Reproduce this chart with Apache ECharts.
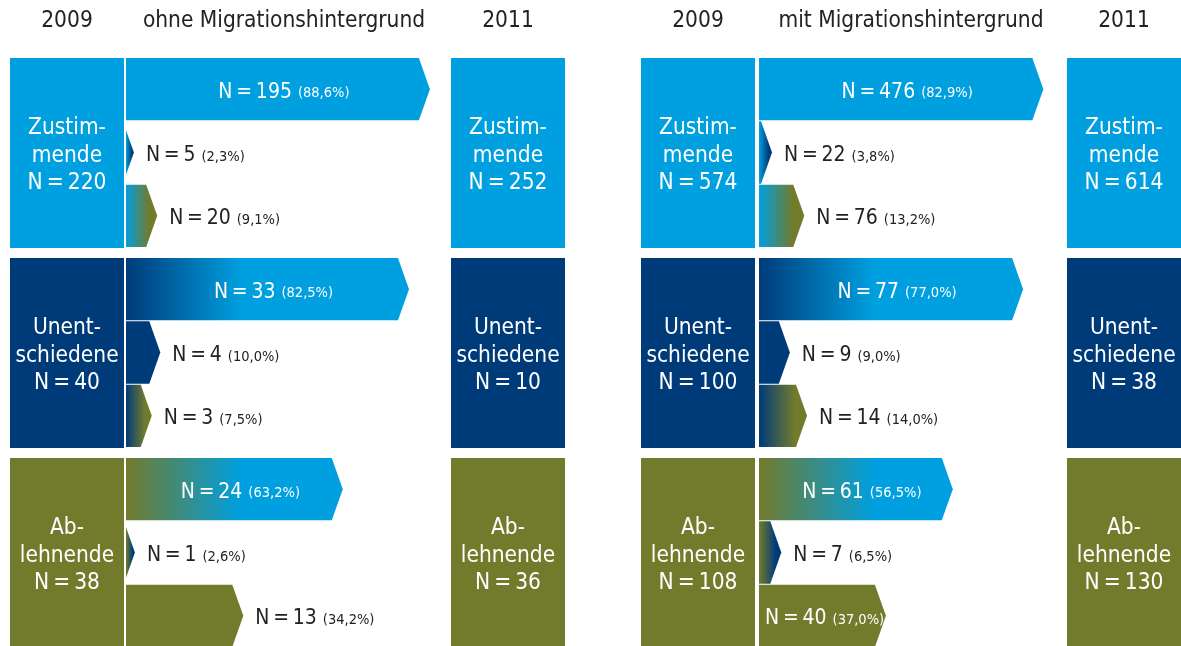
<!DOCTYPE html>
<html>
<head>
<meta charset="utf-8">
<script src="https://cdn.jsdelivr.net/npm/echarts@6/dist/echarts.min.js"></script>
<style>
  html, body { margin: 0; padding: 0; background: #fff; }
  #chart { width: 1181px; height: 646px; }
</style>
</head>
<body>
<div id="chart"></div>
<script>
// Kategorien (Zeilen) und Beschriftungen
const categories = ['Zustimmende', 'Unentschiedene', 'Ablehnende']
const boxLabels = ['Zustim-\nmende', 'Unent-\nschiedene', 'Ab-\nlehnende']
const groups = ['ohne Migrationshintergrund', 'mit Migrationshintergrund']
const years = ['2009', '2011']

// Gruppengrößen 2009 / 2011
const ohne2009 = [220, 40, 38]
const ohne2011 = [252, 10, 36]
const mit2009 = [574, 100, 108]
const mit2011 = [614, 38, 130]

// Übergänge 2009 -> 2011 (Zeile = 2009, Spalte = 2011)
const ohneFlowN = [[195, 5, 20], [33, 4, 3], [24, 1, 13]]
const ohneFlowPct = [[88.6, 2.3, 9.1], [82.5, 10.0, 7.5], [63.2, 2.6, 34.2]]
const mitFlowN = [[476, 22, 76], [77, 9, 14], [61, 7, 40]]
const mitFlowPct = [[82.9, 3.8, 13.2], [77.0, 9.0, 14.0], [56.5, 6.5, 37.0]]

const colors = ['#009fdf', '#003b79', '#727b2c']
const font = "'Liberation Sans Narrow', 'DejaVu Sans Condensed', 'Noto Sans', sans-serif"

// Layout der beiden Teilgrafiken
const panels = [
  { box1: 10, arrows: 126, box2: 451, title: 284 },
  { box1: 641, arrows: 759, box2: 1067, title: 911 }
]
const boxW = 114
const pxPerPct = 3.43

const fmtPct = v => v.toFixed(1).replace('.', ',') + '%'
const fmtN = n => 'N\u2009=\u2009' + n

const grids = []
const xAxes = []
const yAxes = []
const series = []

function addGrid (left, width, min, max) {
  grids.push({ left: left, width: width, top: 53, height: 600, outerBoundsMode: 'none' })
  const i = grids.length - 1
  xAxes.push({ gridIndex: i, type: 'value', min: min, max: max, show: false })
  yAxes.push({ gridIndex: i, type: 'category', data: categories, inverse: true, show: false })
  return i
}

function renderBox (params, api) {
  const cat = api.value(0)
  const c = api.coord([0, cat])
  const band = api.size([0, 1])[1]
  const h = band * 0.95
  const cs = params.coordSys
  return {
    type: 'group',
    children: [
      {
        type: 'rect',
        shape: { x: cs.x, y: c[1] - h / 2, width: cs.width, height: h },
        style: { fill: colors[cat] }
      },
      {
        type: 'text',
        x: cs.x + cs.width / 2,
        y: c[1] + 3,
        style: {
          text: boxLabels[cat] + '\n' + fmtN(api.value(1)),
          fill: '#fff',
          font: '22.5px ' + font,
          lineHeight: 27.5,
          align: 'center',
          verticalAlign: 'middle'
        }
      }
    ]
  }
}

function renderArrow (params, api) {
  const pct = api.value(0)
  const from = api.value(1)
  const to = api.value(2)
  const n = api.value(3)
  const c = api.coord([0, from])
  const band = api.size([0, 1])[1]
  const h = band * 0.95
  const rowH = h / 3
  const top = c[1] - h / 2 + to * rowH
  const bottom = top + rowH - 1
  const mid = (top + bottom) / 2
  const half = (bottom - top) / 2
  const x0 = c[0]
  const tip = api.coord([pct, from])[0]
  const d = 11
  let points
  if (tip - d > x0) {
    points = [[x0, top], [tip - d, top], [tip, mid], [tip - d, bottom], [x0, bottom]]
  } else {
    const cut = (x0 - (tip - d)) / d * half
    points = [[x0, top + cut], [tip, mid], [x0, bottom - cut]]
  }
  let fill = colors[to]
  if (from !== to) {
    const gLen = Math.min(115, (tip - x0) * 0.75)
    fill = new echarts.graphic.LinearGradient(x0, 0, x0 + gLen, 0, [
      { offset: 0, color: colors[from] },
      { offset: 1, color: colors[to] }
    ], true)
  }
  const len = tip - x0
  const inside = len > 125
  const centered = len > 180
  const txt = '{n|' + fmtN(n) + '}{p|(' + fmtPct(pct) + ')}'
  const col = inside ? '#fff' : '#222'
  let tx = tip + 12
  if (inside) tx = centered ? (x0 + tip) / 2 + 6 : x0 + 6
  return {
    type: 'group',
    children: [
      { type: 'polygon', shape: { points: points }, style: { fill: fill } },
      {
        type: 'text',
        x: tx,
        y: mid + 3,
        style: {
          text: txt,
          fill: col,
          align: inside && centered ? 'center' : 'left',
          verticalAlign: 'middle',
          rich: {
            n: { font: '21px ' + font, fill: col },
            p: { font: '14.5px ' + font, fill: col, padding: [3, 0, 0, 6] }
          }
        }
      }
    ]
  }
}

const panelData = [
  { g2009: ohne2009, g2011: ohne2011, flowN: ohneFlowN, flowPct: ohneFlowPct },
  { g2009: mit2009, g2011: mit2011, flowN: mitFlowN, flowPct: mitFlowPct }
]

const graphics = []

panels.forEach((p, k) => {
  const d = panelData[k]
  const gA = addGrid(p.box1, boxW, 0, 1)
  const gB = addGrid(p.arrows, 100 * pxPerPct, 0, 100)
  const gC = addGrid(p.box2, boxW, 0, 1)

  series.push({
    type: 'custom',
    xAxisIndex: gA,
    yAxisIndex: gA,
    renderItem: renderBox,
    data: d.g2009.map((n, i) => [i, n]),
    silent: true
  })
  series.push({
    type: 'custom',
    xAxisIndex: gC,
    yAxisIndex: gC,
    renderItem: renderBox,
    data: d.g2011.map((n, i) => [i, n]),
    silent: true
  })
  const flows = []
  d.flowPct.forEach((row, i) => {
    row.forEach((v, j) => flows.push([v, i, j, d.flowN[i][j]]))
  })
  series.push({
    type: 'custom',
    xAxisIndex: gB,
    yAxisIndex: gB,
    renderItem: renderArrow,
    data: flows,
    silent: true,
    clip: false
  })

  const headY = 21
  const headFont = '22.5px ' + font
  graphics.push(
    { type: 'text', x: p.box1 + boxW / 2, y: headY, style: { text: years[0], font: headFont, fill: '#222', align: 'center', verticalAlign: 'middle' } },
    { type: 'text', x: p.title, y: headY, style: { text: groups[k], font: headFont, fill: '#222', align: 'center', verticalAlign: 'middle' } },
    { type: 'text', x: p.box2 + boxW / 2, y: headY, style: { text: years[1], font: headFont, fill: '#222', align: 'center', verticalAlign: 'middle' } }
  )
})

const myChart = echarts.init(document.getElementById('chart'))
myChart.setOption({
  animation: false,
  grid: grids,
  xAxis: xAxes,
  yAxis: yAxes,
  graphic: graphics,
  series: series
})
</script>
</body>
</html>
